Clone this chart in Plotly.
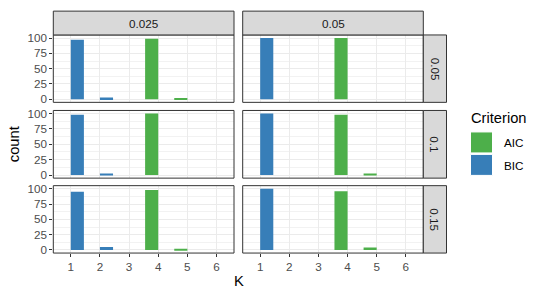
import plotly.graph_objects as go

K = [1, 2, 3, 4, 5, 6]
col_labels = ["0.025", "0.05"]
row_labels = ["0.05", "0.1", "0.15"]

# counts[row][col]
aic_counts = [
    [[0, 0, 0, 99, 1, 0], [0, 0, 0, 100, 0, 0]],
    [[0, 0, 0, 100, 0, 0], [0, 0, 0, 98, 2, 0]],
    [[0, 0, 0, 98, 2, 0], [0, 0, 0, 96, 4, 0]],
]
bic_counts = [
    [[97, 3, 0, 0, 0, 0], [100, 0, 0, 0, 0, 0]],
    [[98, 2, 0, 0, 0, 0], [100, 0, 0, 0, 0, 0]],
    [[95, 5, 0, 0, 0, 0], [100, 0, 0, 0, 0, 0]],
]
y_ticks = [0, 25, 50, 75, 100]

AIC_COL = "#4DAF4A"
BIC_COL = "#377EB8"
W, H = 539, 300

col_px = [(53.3, 234.0), (242.7, 423.3)]
row_px = [(31.7, 100.7), (109.0, 178.3), (186.0, 255.0)]

def px_x(p):
    return p / W

def px_y(p):
    return 1 - p / H

fig = go.Figure()
layout = {}
shapes = []
annotations = []
FONT = "Liberation Sans, Arial, sans-serif"

idx = 0
for r in range(3):
    for c in range(2):
        idx += 1
        xa = "x" if idx == 1 else f"x{idx}"
        ya = "y" if idx == 1 else f"y{idx}"
        xkey = "xaxis" if idx == 1 else f"xaxis{idx}"
        ykey = "yaxis" if idx == 1 else f"yaxis{idx}"
        for name, data, col in [("AIC", aic_counts, AIC_COL), ("BIC", bic_counts, BIC_COL)]:
            fig.add_trace(go.Bar(
                x=K, y=data[r][c], name=name, xaxis=xa, yaxis=ya,
                marker=dict(color=col, line=dict(width=0)),
                showlegend=False, offsetgroup=name,
            ))
        x0, x1 = col_px[c]
        y0, y1 = row_px[r]
        layout[xkey] = dict(
            domain=[px_x(x0), px_x(x1)], anchor=ya, range=[0.4, 6.6],
            tickvals=K, ticktext=[str(k) for k in K],
            showticklabels=(r == 2), ticks="outside" if r == 2 else "",
            ticklen=3, tickcolor="#333333", tickwidth=1,
            showgrid=True, gridcolor="#EBEBEB", gridwidth=1,
            zeroline=False, showline=False,
            tickfont=dict(family=FONT, size=11.7, color="#4D4D4D"),
        )
        layout[ykey] = dict(
            domain=[px_y(y1), px_y(y0)], anchor=xa, range=[-5, 105],
            tickvals=y_ticks, showticklabels=(c == 0), ticks="outside" if c == 0 else "",
            ticklen=3, tickcolor="#333333", tickwidth=1,
            showgrid=True, gridcolor="#EBEBEB", gridwidth=1,
            minor=dict(tickvals=[12.5, 37.5, 62.5, 87.5], showgrid=True, gridcolor="#F2F2F2", gridwidth=0.6, ticks=""),
            zeroline=False, showline=False,
            tickfont=dict(family=FONT, size=11.7, color="#4D4D4D"),
        )
        shapes.append(dict(type="rect", xref="paper", yref="paper",
                           x0=px_x(x0), x1=px_x(x1), y0=px_y(y1), y1=px_y(y0),
                           line=dict(color="#333333", width=1), fillcolor="rgba(0,0,0,0)", layer="above"))

# top strips
for c in range(2):
    x0, x1 = col_px[c]
    shapes.append(dict(type="rect", xref="paper", yref="paper",
                       x0=px_x(x0), x1=px_x(x1), y0=px_y(31.7), y1=px_y(7.3),
                       line=dict(color="#333333", width=1), fillcolor="#D9D9D9"))
    annotations.append(dict(text=col_labels[c], xref="paper", yref="paper",
                            x=px_x((x0 + x1) / 2), y=px_y(19.5), showarrow=False,
                            xanchor="center", yanchor="middle",
                            font=dict(family=FONT, size=11.7, color="#1A1A1A")))
# right strips
for r in range(3):
    y0, y1 = row_px[r]
    shapes.append(dict(type="rect", xref="paper", yref="paper",
                       x0=px_x(423.3), x1=px_x(446.5), y0=px_y(y1), y1=px_y(y0),
                       line=dict(color="#333333", width=1), fillcolor="#D9D9D9"))
    annotations.append(dict(text=row_labels[r], xref="paper", yref="paper",
                            x=px_x(435), y=px_y((y0 + y1) / 2), showarrow=False, textangle=90,
                            xanchor="center", yanchor="middle",
                            font=dict(family=FONT, size=11.7, color="#1A1A1A")))

annotations.append(dict(text="K", xref="paper", yref="paper", x=px_x(238.5), y=px_y(284),
                        xanchor="center", yanchor="middle",
                        showarrow=False, font=dict(family=FONT, size=14.7, color="black")))
annotations.append(dict(text="count", xref="paper", yref="paper", x=px_x(14), y=px_y(143.5),
                        xanchor="center", yanchor="middle",
                        showarrow=False, textangle=-90, font=dict(family=FONT, size=14.7, color="black")))

annotations.append(dict(text="Criterion", xref="paper", yref="paper", x=px_x(469), y=px_y(117),
                        xanchor="left", yanchor="middle", showarrow=False,
                        font=dict(family=FONT, size=14.7, color="black")))
for i, (name, col) in enumerate([("AIC", AIC_COL), ("BIC", BIC_COL)]):
    ty = 131 + i * 23
    shapes.append(dict(type="rect", xref="paper", yref="paper",
                       x0=px_x(470.5), x1=px_x(492.5), y0=px_y(ty + 21.5), y1=px_y(ty),
                       line=dict(color="white", width=1), fillcolor=col))
    annotations.append(dict(text=name, xref="paper", yref="paper", x=px_x(502), y=px_y(ty + 11),
                            xanchor="left", yanchor="middle", showarrow=False,
                            font=dict(family=FONT, size=11.7, color="black")))

fig.update_layout(
    width=W, height=H, margin=dict(l=0, r=0, t=0, b=0, pad=0),
    paper_bgcolor="white", plot_bgcolor="white",
    barmode="group", bargap=0.1, bargroupgap=0,
    shapes=shapes, annotations=annotations, showlegend=False,
    **layout,
)
fig.write_html("out.html", config={"displayModeBar": False})

with open("out.html", "r", encoding="utf-8") as f:
    html = f.read()
html = html.replace("<head>", "<head><style>html,body{margin:0;padding:0;overflow:hidden;}</style>", 1)
with open("out.html", "w", encoding="utf-8") as f:
    f.write(html)
